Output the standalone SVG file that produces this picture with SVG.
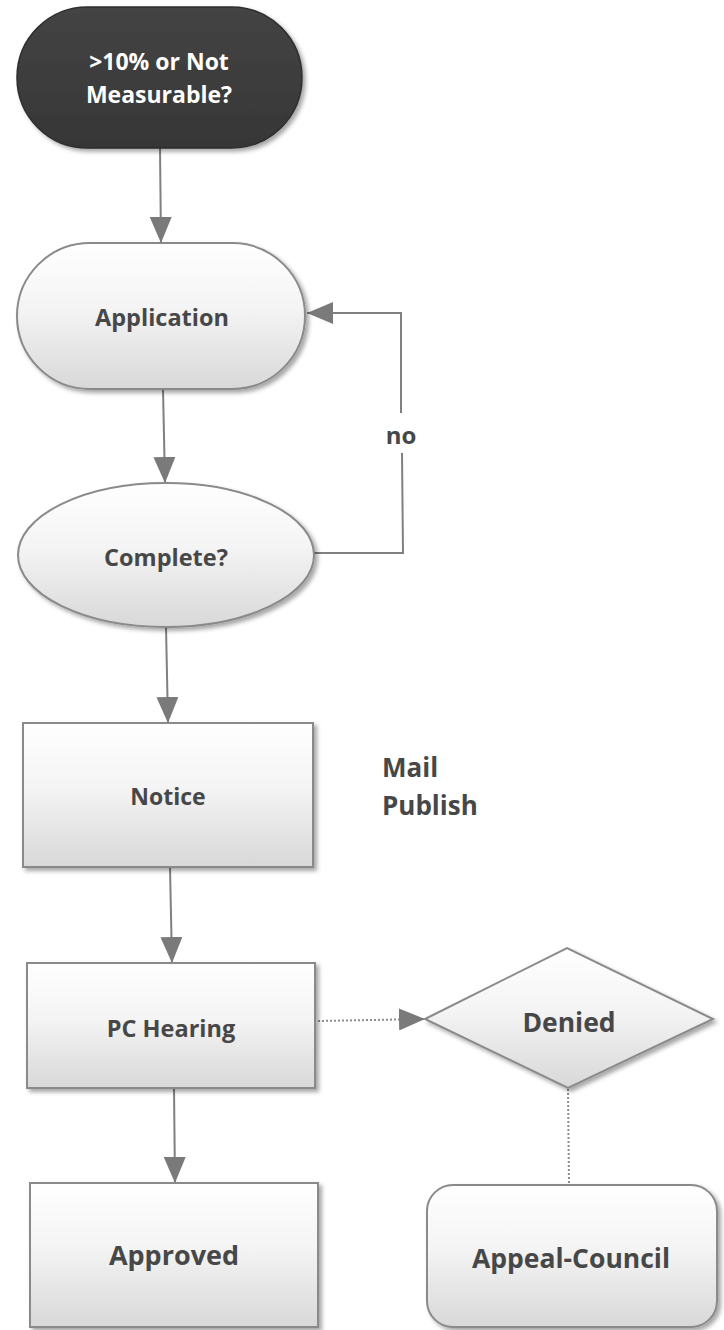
<svg xmlns="http://www.w3.org/2000/svg" width="724" height="1330" viewBox="0 0 724 1330">
<defs>
<linearGradient id="g" x1="0" y1="0" x2="0" y2="1">
<stop offset="0" stop-color="#ffffff"/>
<stop offset="0.45" stop-color="#f4f4f4"/>
<stop offset="1" stop-color="#d8d8d8"/>
</linearGradient>
<linearGradient id="gd" x1="0" y1="0" x2="0" y2="1">
<stop offset="0" stop-color="#444444"/>
<stop offset="1" stop-color="#363636"/>
</linearGradient>
<filter id="sh" x="-10%" y="-10%" width="125%" height="130%">
<feDropShadow dx="3" dy="3" stdDeviation="2" flood-color="#000" flood-opacity="0.35"/>
</filter>
<marker id="ah" markerUnits="userSpaceOnUse" markerWidth="26" markerHeight="22" refX="26" refY="11" orient="auto">
<path d="M0,0 L26,11 L0,22 z" fill="#7a7a7a"/>
</marker>
</defs>
<style>
.n{fill:url(#g);stroke:#8a8a8a;stroke-width:2;filter:url(#sh)}
.t{font-family:"Open Sans","Liberation Sans",sans-serif;font-weight:bold;fill:#474747;text-anchor:middle}
.c{fill:none;stroke:#808080;stroke-width:2}
.d{fill:none;stroke:#8c8c8c;stroke-width:2;stroke-dasharray:2 2}
</style>
<g id="connectors">
<line class="c" x1="160" y1="148" x2="161" y2="243" marker-end="url(#ah)"/>
<line class="c" x1="163" y1="389" x2="165" y2="483" marker-end="url(#ah)"/>
<polyline class="c" points="314,553 403,553 402,453"/>
<polyline class="c" points="401,413 401,313 307,313" marker-end="url(#ah)"/>
<line class="c" x1="166" y1="627" x2="168" y2="723" marker-end="url(#ah)"/>
<line class="c" x1="170" y1="867" x2="172" y2="963" marker-end="url(#ah)"/>
<line class="c" x1="174" y1="1088" x2="175" y2="1183" marker-end="url(#ah)"/>
<line class="d" x1="318" y1="1021" x2="425" y2="1019" marker-end="url(#ah)"/>
<line class="d" x1="568" y1="1089" x2="569" y2="1185"/>
<text class="t" x="401" y="444" font-size="24">no</text>
</g>
<g id="start">
<rect x="17" y="7" width="285" height="141" rx="70.5" fill="url(#gd)" stroke="#2e2e2e" stroke-width="1.5" filter="url(#sh)"/>
<text class="t" x="159" y="70" font-size="23" style="fill:#ffffff">&gt;10% or Not</text>
<text class="t" x="159" y="103" font-size="23" style="fill:#ffffff">Measurable?</text>
</g>
<g id="application">
<rect class="n" x="17" y="243" width="288" height="146" rx="73"/>
<text class="t" x="162" y="326" font-size="23.5">Application</text>
</g>
<g id="complete">
<ellipse class="n" cx="166" cy="555" rx="148" ry="72"/>
<text class="t" x="166" y="566" font-size="23.5">Complete?</text>
</g>
<g id="notice">
<rect class="n" x="23" y="723" width="290" height="144"/>
<text class="t" x="168" y="805" font-size="23">Notice</text>
</g>
<g id="mail-publish">
<text class="t" x="382" y="777" font-size="26" style="text-anchor:start">Mail</text>
<text class="t" x="382" y="815" font-size="26" style="text-anchor:start">Publish</text>
</g>
<g id="pc-hearing">
<rect class="n" x="27" y="963" width="288" height="125"/>
<text class="t" x="171" y="1037" font-size="23.5">PC Hearing</text>
</g>
<g id="denied">
<polygon class="n" points="425,1019 567,948 713,1019 568,1088"/>
<text class="t" x="569" y="1032" font-size="26.5">Denied</text>
</g>
<g id="approved">
<rect class="n" x="30" y="1183" width="288" height="144"/>
<text class="t" x="174" y="1265" font-size="27">Approved</text>
</g>
<g id="appeal-council">
<rect class="n" x="427" y="1185" width="290" height="142" rx="26"/>
<text class="t" x="571" y="1268" font-size="26.5">Appeal-Council</text>
</g>
</svg>
